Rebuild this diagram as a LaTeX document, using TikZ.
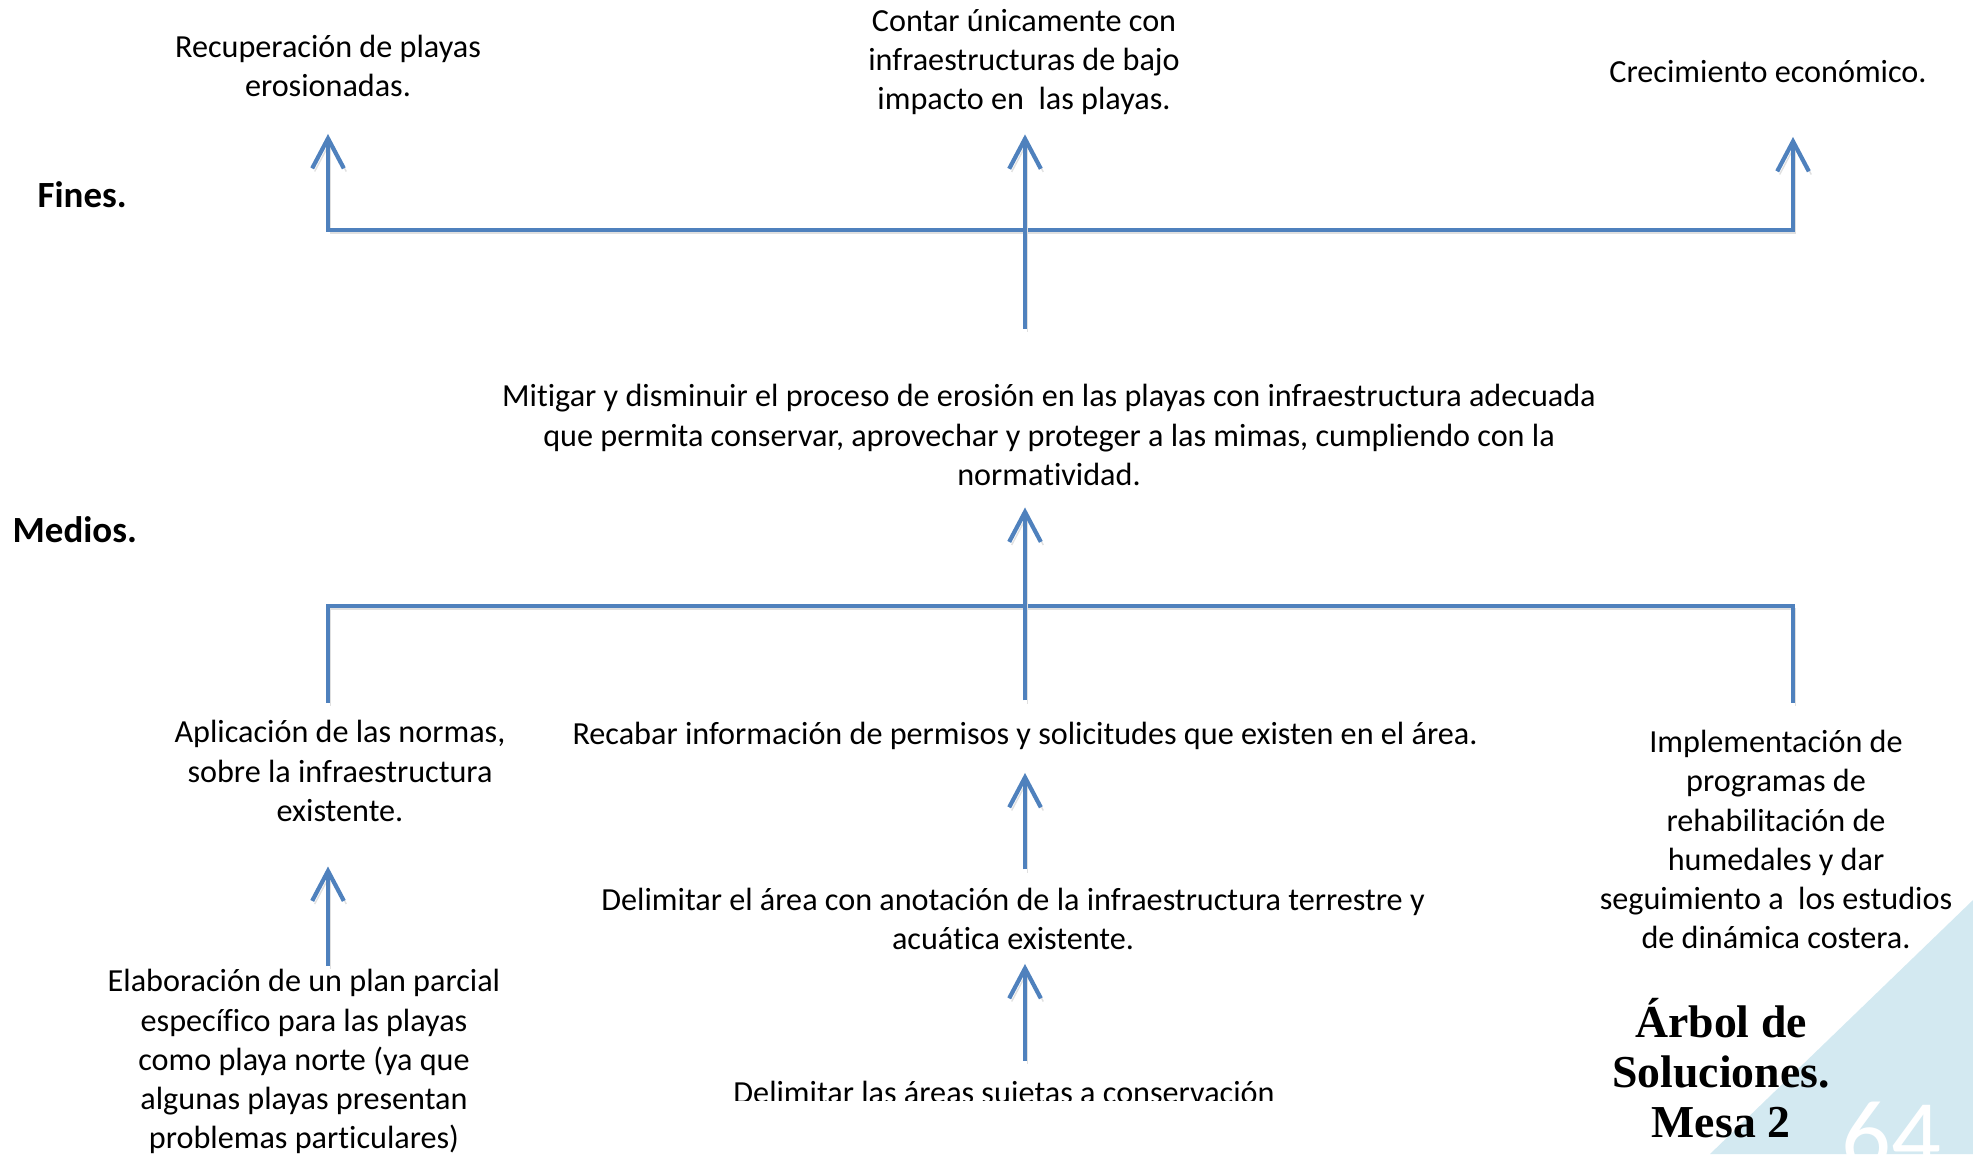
\documentclass[tikz,border=0pt]{standalone}
\usepackage{fontspec}
\setmainfont{Carlito}[Ligatures=NoCommon]
\newfontfamily\titlefont{Liberation Serif}
\usepackage{tikz}
\usetikzlibrary{arrows.meta}
\definecolor{treeblue}{HTML}{4F81BD}
\definecolor{cornerblue}{HTML}{D3E9F1}
\tikzstyle{txt} = [align=center, inner sep=0pt, font=\fontsize{9.15}{11.1}\selectfont, execute at begin node=\strut, execute at end node=\strut]
\tikzstyle{lbl} = [anchor=west, inner sep=0pt, font=\fontsize{10.5}{12}\selectfont\bfseries]
\tikzstyle{titulo} = [align=center, inner sep=0pt, font=\fontsize{13}{14.2}\selectfont\titlefont\bfseries]
\tikzstyle{tree} = [draw=treeblue, line width=1.2pt, >={Straight Barb[length=8.5pt,width=9pt]}, preaction={draw=black!12, transform canvas={xshift=0.7pt,yshift=-0.9pt}}]

\begin{document}
\begin{tikzpicture}[x=0.01cm,y=-0.01cm]
\useasboundingbox (0,0) rectangle (1973,1154);
\fill[cornerblue] (1973,900) -- (1973,1154) -- (1710,1154) -- cycle;

% fines
\node (recup) [txt] at (328,71.7) {Recuperación de playas\\erosionadas.};
\node (contar) [txt] at (1024,65.7) {Contar únicamente con\\infraestructuras de bajo\\impacto en\ \ las playas.};
\node (crec) [txt] at (1768,74.7) {Crecimiento económico.};
\node (fines) [lbl] at (37,195) {Fines.};

\node (mitigar) [txt] at (1049,440.7) {Mitigar y disminuir el proceso de erosión en las playas con infraestructura adecuada\\que permita conservar, aprovechar y proteger a las mimas, cumpliendo con la\\normatividad.};
\node (medios) [lbl] at (12,530) {Medios.};

% medios
\node (aplic) [txt] at (340,776.7) {Aplicación de las normas,\\sobre la infraestructura\\existente.};
\node (recabar) [txt] at (1025,736.7) {Recabar información de permisos y solicitudes que existen en el área.};
\node (implem) [txt] at (1776,845.2) {Implementación de\\programas de\\rehabilitación de\\humedales y dar\\seguimiento a\ \ los estudios\\de dinámica costera.};
\node (delim) [txt] at (1013,924.7) {Delimitar el área con anotación de la infraestructura terrestre y\\acuática existente.};
\node (elab) [txt] at (304,1064.7) {Elaboración de un plan parcial\\específico para las playas\\como playa norte (ya que\\algunas playas presentan\\problemas particulares)};
\begin{scope}
    \clip (0,0) rectangle (1973,1100);
    \node (conserv) [txt] at (1004,1096) {Delimitar las áreas sujetas a conservación};
\end{scope}

\node (title) [titulo] at (1721,1068) {Árbol de\\Soluciones.\\Mesa 2};
\node (pagina) [anchor=base, inner sep=0pt, text=white, font=\fontsize{28}{28}\selectfont] at (1891,1168) {64};

\coordinate (fL) at (328,230);
\coordinate (fM) at (1025,230);
\coordinate (fR) at (1793,230);
\coordinate (mL) at (328,606);
\coordinate (mM) at (1025,606);
\coordinate (mR) at (1793,606);

\draw[tree,<->,shorten <=0.25cm,shorten >=0.42cm] (recup.south -| fL) -- (fL) -- (fR) -- (crec.south -| fR);
\draw[tree,->,shorten <=0.55cm,shorten >=0.12cm] (mitigar.north -| fM) -- (contar.south -| fM);
\draw[tree,shorten <=0.17cm,shorten >=0.27cm] (aplic.north -| mL) -- (mL) -- (mR) -- (implem.north -| mR);
\draw[tree,->,shorten <=0.16cm,shorten >=0.10cm] (recabar.north -| mM) -- (mitigar.south -| mM);
\draw[tree,->,shorten <=0.03cm,shorten >=0.33cm] (elab.north -| mL) -- (aplic.south -| mL);
\draw[tree,->,shorten <=0.18cm,shorten >=0.16cm] (delim.north -| mM) -- (recabar.south -| mM);
\draw[tree,->,shorten <=0.15cm,shorten >=0.02cm] (conserv.north -| mM) -- (delim.south -| mM);

\end{tikzpicture}
\end{document}
